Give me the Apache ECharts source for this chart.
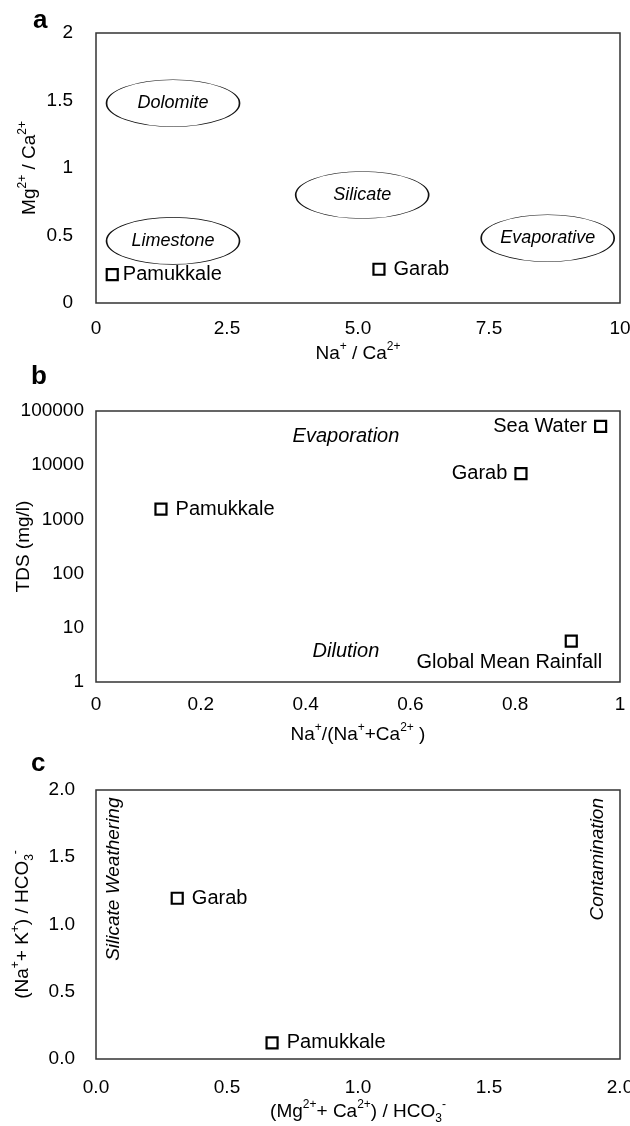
<!DOCTYPE html>
<html>
<head>
<meta charset="utf-8">
<script src="https://cdn.jsdelivr.net/npm/echarts@6/dist/echarts.min.js"></script>
<style>
  html, body { margin: 0; padding: 0; background: #fff; }
  #chart { width: 630px; height: 1126px; }
</style>
</head>
<body>
<div id="chart"></div>
<script>
// panel a: Mg/Ca vs Na/Ca
var aXTicks = [0, 2.5, 5, 7.5, 10]
var aXLabels = ['0', '2.5', '5.0', '7.5', '10']
var aYTicks = [0, 0.5, 1, 1.5, 2]
var aYLabels = ['0', '0.5', '1', '1.5', '2']
var aSiteNames = ['Pamukkale', 'Garab']
var aSiteX = [0.31, 5.40]
var aSiteY = [0.21, 0.25]
var aZoneNames = ['Dolomite', 'Limestone', 'Silicate', 'Evaporative']
var aZoneX = [1.47, 1.47, 5.08, 8.62]
var aZoneY = [1.48, 0.46, 0.8, 0.48]

// panel b: Gibbs plot
var bXTicks = [0, 0.2, 0.4, 0.6, 0.8, 1]
var bXLabels = ['0', '0.2', '0.4', '0.6', '0.8', '1']
var bYTicks = [1, 10, 100, 1000, 10000, 100000]
var bYLabels = ['1', '10', '100', '1000', '10000', '100000']
var bSiteNames = ['Pamukkale', 'Garab', 'Sea Water', 'Global Mean Rainfall']
var bSiteX = [0.124, 0.811, 0.963, 0.907]
var bSiteY = [1550, 7000, 52000, 5.7]
var bNoteNames = ['Evaporation', 'Dilution']
var bNoteX = [0.477, 0.477]
var bNoteY = [34600, 3.6]

// panel c
var cXTicks = [0, 0.5, 1, 1.5, 2]
var cXLabels = ['0.0', '0.5', '1.0', '1.5', '2.0']
var cYTicks = [0, 0.5, 1, 1.5, 2]
var cYLabels = ['0.0', '0.5', '1.0', '1.5', '2.0']
var cSiteNames = ['Garab', 'Pamukkale']
var cSiteX = [0.31, 0.672]
var cSiteY = [1.195, 0.12]
var cNoteNames = ['Silicate Weathering', 'Contamination']
var cNoteX = [0.068, 1.916]
var cNoteY = [1.337, 1.485]

var FONT = 'Liberation Sans, Arial, sans-serif'
var INK = '#000'
var ellipsePath = 'path://M0,50 C0,22.4 22.4,0 50,0 C77.6,0 100,22.4 100,50 C100,77.6 77.6,100 50,100 C22.4,100 0,77.6 0,50 Z'

function tickFmt (ticks, labels) {
  return function (v) {
    for (var i = 0; i < ticks.length; i++) {
      if (Math.abs(ticks[i] - v) < 1e-6 * Math.max(1, ticks[i])) return labels[i]
    }
    return ''
  }
}

var rich = {
  n: { fontSize: 19, fontFamily: FONT, color: INK, lineHeight: 26 },
  sup: { fontSize: 12, fontFamily: FONT, color: INK, lineHeight: 14, verticalAlign: 'top' },
  sub: { fontSize: 12, fontFamily: FONT, color: INK, lineHeight: 12, verticalAlign: 'bottom' }
}

function makeX (idx, ticks, labels, name, gap, margin) {
  return {
    gridIndex: idx,
    type: 'value',
    min: ticks[0],
    max: ticks[ticks.length - 1],
    interval: ticks[1] - ticks[0],
    name: name,
    nameLocation: 'middle',
    nameGap: gap,
    nameMoveOverlap: false,
    nameTextStyle: { rich: rich },
    axisLine: { show: false },
    axisTick: { show: false },
    splitLine: { show: false },
    axisLabel: { formatter: tickFmt(ticks, labels), fontSize: 19, fontFamily: FONT, color: INK, margin: margin }
  }
}

function makeY (idx, ticks, labels, name, gap, margin, isLog) {
  var ax = {
    gridIndex: idx,
    type: isLog ? 'log' : 'value',
    min: ticks[0],
    max: ticks[ticks.length - 1],
    name: name,
    nameLocation: 'middle',
    nameRotate: 90,
    nameGap: gap,
    nameMoveOverlap: false,
    nameTextStyle: { rich: rich },
    axisLine: { show: false },
    axisTick: { show: false },
    splitLine: { show: false },
    axisLabel: { formatter: tickFmt(ticks, labels), fontSize: 19, fontFamily: FONT, color: INK, margin: margin }
  }
  if (isLog) ax.logBase = 10
  else ax.interval = ticks[1] - ticks[0]
  return ax
}

function sitePoints (names, xs, ys, labelOpts) {
  return names.map(function (n, i) {
    return { name: n, value: [xs[i], ys[i]], label: labelOpts[i] }
  })
}

var squareStyle = { color: '#fff', borderColor: '#000', borderWidth: 2.2, opacity: 1 }
var siteLabel = { show: true, formatter: '{b}', fontSize: 20, fontFamily: FONT, color: INK }
var gridBase = { left: 96, width: 524, show: true, borderColor: '#333', borderWidth: 1.5, backgroundColor: 'transparent', containLabel: false, outerBoundsMode: 'none' }

var chart = echarts.init(document.getElementById('chart'))
chart.setOption({
  animation: false,
  backgroundColor: '#fff',
  grid: [
    Object.assign({ top: 33, height: 270 }, gridBase),
    Object.assign({ top: 411, height: 271 }, gridBase),
    Object.assign({ top: 790, height: 269 }, gridBase)
  ],
  xAxis: [
    makeX(0, aXTicks, aXLabels, '{n|Na}{sup|+}{n| / Ca}{sup|2+}', 38, 16),
    makeX(1, bXTicks, bXLabels, '{n|Na}{sup|+}{n|/(Na}{sup|+}{n|+Ca}{sup|2+}{n| )}', 40, 13),
    makeX(2, cXTicks, cXLabels, '{n|(Mg}{sup|2+}{n|+ Ca}{sup|2+}{n|) / HCO}{sub|3}{sup|-}', 40, 19)
  ],
  yAxis: [
    makeY(0, aYTicks, aYLabels, '{n|Mg}{sup|2+}{n| / Ca}{sup|2+}', 53, 23, false),
    makeY(1, bYTicks, bYLabels, '{n|TDS (mg/l)}', 59, 12, true),
    makeY(2, cYTicks, cYLabels, '{n|(Na}{sup|+}{n|+ K}{sup|+}{n|) / HCO}{sub|3}{sup|-}', 60, 21, false)
  ],
  graphic: [
    { type: 'text', left: 33, top: 8, style: { text: 'a', font: 'bold 26px ' + FONT, fill: INK } },
    { type: 'text', left: 31, top: 364, style: { text: 'b', font: 'bold 26px ' + FONT, fill: INK } },
    { type: 'text', left: 31, top: 751, style: { text: 'c', font: 'bold 26px ' + FONT, fill: INK } }
  ],
  series: [
    {
      name: 'zones',
      type: 'scatter',
      xAxisIndex: 0,
      yAxisIndex: 0,
      symbol: ellipsePath,
      symbolSize: [133, 47],
      itemStyle: { color: '#fff', borderColor: '#111', borderWidth: 1, opacity: 1 },
      label: { show: true, position: 'inside', formatter: '{b}', fontSize: 18, fontStyle: 'italic', fontFamily: FONT, color: INK },
      data: aZoneNames.map(function (n, i) { return { name: n, value: [aZoneX[i], aZoneY[i]] } })
    },
    {
      name: 'sites a',
      type: 'scatter',
      xAxisIndex: 0,
      yAxisIndex: 0,
      symbol: 'rect',
      symbolSize: 11,
      itemStyle: squareStyle,
      label: siteLabel,
      data: sitePoints(aSiteNames, aSiteX, aSiteY, [
        { position: 'right', distance: 4 },
        { position: 'right', distance: 8 }
      ])
    },
    {
      name: 'sites b',
      type: 'scatter',
      xAxisIndex: 1,
      yAxisIndex: 1,
      symbol: 'rect',
      symbolSize: 11,
      itemStyle: squareStyle,
      label: siteLabel,
      data: sitePoints(bSiteNames, bSiteX, bSiteY, [
        { position: 'right', distance: 8 },
        { position: 'left', distance: 7 },
        { position: 'left', distance: 7 },
        { position: 'bottom', distance: 5, offset: [-62, 0] }
      ])
    },
    {
      name: 'notes b',
      type: 'scatter',
      xAxisIndex: 1,
      yAxisIndex: 1,
      symbolSize: 0,
      itemStyle: { opacity: 1 },
      label: { show: true, position: 'inside', formatter: '{b}', fontSize: 20, fontStyle: 'italic', fontFamily: FONT, color: INK },
      data: bNoteNames.map(function (n, i) { return { name: n, value: [bNoteX[i], bNoteY[i]] } })
    },
    {
      name: 'sites c',
      type: 'scatter',
      xAxisIndex: 2,
      yAxisIndex: 2,
      symbol: 'rect',
      symbolSize: 11,
      itemStyle: squareStyle,
      label: siteLabel,
      data: sitePoints(cSiteNames, cSiteX, cSiteY, [
        { position: 'right', distance: 8 },
        { position: 'right', distance: 8 }
      ])
    },
    {
      name: 'notes c',
      type: 'scatter',
      xAxisIndex: 2,
      yAxisIndex: 2,
      symbolSize: 0,
      itemStyle: { opacity: 1 },
      label: { show: true, position: 'inside', rotate: 90, formatter: '{b}', fontSize: 19, fontStyle: 'italic', fontFamily: FONT, color: INK },
      data: cNoteNames.map(function (n, i) { return { name: n, value: [cNoteX[i], cNoteY[i]] } })
    }
  ]
})
</script>
</body>
</html>
